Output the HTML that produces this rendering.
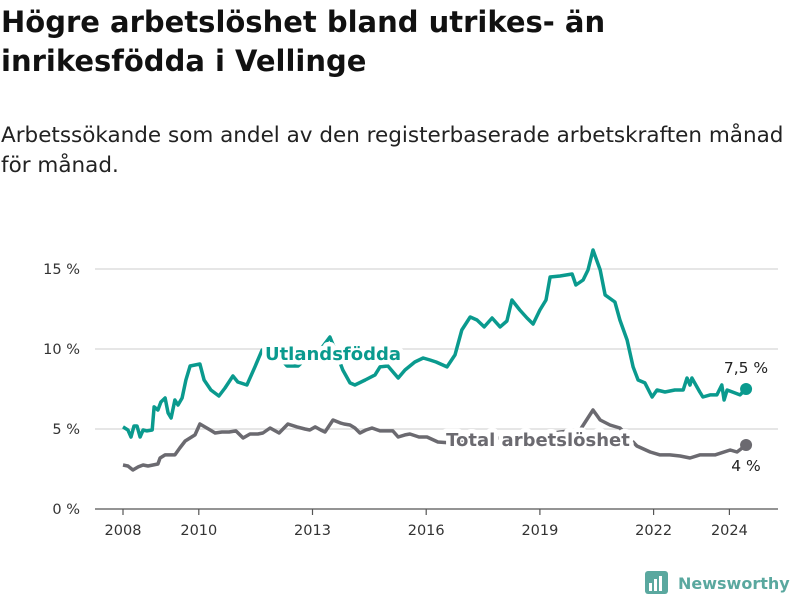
<!DOCTYPE html>
<html><head><meta charset="utf-8"><style>
body{margin:0;background:#fff;font-family:"DejaVu Sans","Liberation Sans",sans-serif;}
#wrap{position:relative;width:800px;height:600px;overflow:hidden;}
h1{position:absolute;left:1px;top:3px;margin:0;font-size:29px;line-height:39px;font-weight:bold;color:#111;}
p.sub{position:absolute;left:1px;top:121px;margin:0;font-size:21.5px;line-height:30px;color:#222;width:799px;}
</style></head><body>
<div id="wrap">
<h1>Högre arbetslöshet bland utrikes- än<br>inrikesfödda i Vellinge</h1>
<p class="sub">Arbetssökande som andel av den registerbaserade arbetskraften månad<br>för månad.</p>
<svg id="chart" width="800" height="600" style="position:absolute;left:0;top:0"></svg>
</div>
<script>
const utlYears=[2008.00,2008.13,2008.21,2008.29,2008.37,2008.45,2008.53,2008.63,2008.77,2008.82,2008.92,2009.00,2009.11,2009.19,2009.27,2009.37,2009.45,2009.56,2009.66,2009.77,2010.03,2010.14,2010.32,2010.53,2010.69,2010.90,2011.03,2011.27,2011.48,2011.67,2011.88,2012.14,2012.33,2012.62,2012.93,2013.20,2013.46,2013.65,2013.80,2013.99,2014.12,2014.39,2014.65,2014.78,2014.99,2015.26,2015.44,2015.70,2015.92,2016.10,2016.26,2016.55,2016.76,2016.94,2017.16,2017.34,2017.53,2017.74,2017.95,2018.13,2018.26,2018.47,2018.66,2018.82,2019.00,2019.16,2019.27,2019.53,2019.85,2019.95,2020.14,2020.27,2020.40,2020.59,2020.72,2020.98,2021.11,2021.30,2021.46,2021.59,2021.77,2021.96,2022.09,2022.30,2022.56,2022.78,2022.88,2022.96,2023.01,2023.22,2023.30,2023.49,2023.67,2023.80,2023.86,2023.94,2024.15,2024.28,2024.44];
const utlValues=[5.13,4.94,4.5,5.19,5.19,4.5,4.94,4.88,4.94,6.38,6.19,6.69,6.94,6.0,5.69,6.81,6.5,6.94,8.06,8.94,9.06,8.06,7.44,7.06,7.56,8.31,7.94,7.75,8.88,9.94,9.81,9.44,8.94,8.94,9.63,9.94,10.75,9.63,8.69,7.88,7.75,8.06,8.38,8.88,8.94,8.19,8.69,9.19,9.44,9.31,9.19,8.88,9.63,11.19,12.0,11.81,11.38,11.94,11.38,11.75,13.06,12.44,11.94,11.56,12.44,13.06,14.5,14.56,14.69,14.0,14.31,14.94,16.19,14.94,13.38,12.94,11.81,10.56,8.88,8.06,7.88,7.0,7.44,7.31,7.44,7.44,8.19,7.75,8.19,7.31,7.0,7.13,7.13,7.75,6.81,7.44,7.25,7.13,7.5];
const totYears=[2008.00,2008.13,2008.26,2008.40,2008.53,2008.66,2008.92,2008.98,2009.11,2009.37,2009.50,2009.64,2009.90,2010.03,2010.30,2010.43,2010.61,2010.80,2010.98,2011.17,2011.35,2011.56,2011.69,2011.88,2012.12,2012.35,2012.59,2012.80,2012.93,2013.07,2013.22,2013.33,2013.54,2013.73,2013.83,2013.99,2014.12,2014.25,2014.41,2014.57,2014.78,2015.12,2015.26,2015.44,2015.57,2015.81,2016.02,2016.31,2016.63,2017.16,2017.95,2018.74,2019.53,2020.06,2020.40,2020.59,2020.85,2021.11,2021.56,2021.91,2022.17,2022.43,2022.70,2022.96,2023.22,2023.62,2024.02,2024.20,2024.44];
const totValues=[2.75,2.69,2.44,2.63,2.75,2.69,2.81,3.19,3.38,3.38,3.81,4.25,4.63,5.31,4.94,4.75,4.81,4.81,4.88,4.44,4.69,4.69,4.75,5.06,4.75,5.31,5.13,5.0,4.94,5.13,4.94,4.81,5.56,5.38,5.31,5.25,5.06,4.75,4.94,5.06,4.88,4.88,4.5,4.63,4.69,4.5,4.5,4.19,4.13,4.31,4.44,4.5,4.81,4.94,6.19,5.56,5.25,5.06,3.94,3.56,3.38,3.38,3.31,3.19,3.38,3.38,3.69,3.56,4.0];
const yTicks=[0,5,10,15];
const yTickLabels=["0 %","5 %","10 %","15 %"];
const xTicks=[2008,2010,2013,2016,2019,2022,2024];
const utlEndLabel="7,5 %";
const totEndLabel="4 %";

const NS="http://www.w3.org/2000/svg";
const FF='DejaVu Sans, Liberation Sans, sans-serif';
const svg=document.getElementById('chart');
const X=y=>123+(y-2008)*37.9;
const Y=v=>509-v*16;
function mk(tag,attrs,parent){const e=document.createElementNS(NS,tag);for(const k in attrs)e.setAttribute(k,attrs[k]);(parent||svg).appendChild(e);return e;}

yTicks.forEach((t,i)=>{
  const g=mk('line',{x1:95,x2:778,y1:Y(t),y2:Y(t),stroke:t===0?'#555':'#ddd','stroke-width':t===0?1.2:1.5});
  
  
  const tx=mk('text',{x:80,y:Y(t)+5,'text-anchor':'end','font-size':14.5,fill:'#333','font-family':FF});
  tx.textContent=yTickLabels[i];
  
  
});
xTicks.forEach(t=>{
  const l=mk('line',{x1:X(t),x2:X(t),y1:509,y2:515,stroke:'#555','stroke-width':1.2});
  
  
  const tx=mk('text',{x:X(t),y:535,'text-anchor':'middle','font-size':14.5,fill:'#333','font-family':FF});
  tx.textContent=t;
  
  
});
function path(xs,vs){return xs.map((x,i)=>(i?'L':'M')+X(x).toFixed(1)+','+Y(vs[i]).toFixed(1)).join('');}
const tp=mk('path',{d:path(totYears,totValues),fill:'none',stroke:'#6b6a70','stroke-width':3.5,'stroke-linejoin':'round'});


const up=mk('path',{d:path(utlYears,utlValues),fill:'none',stroke:'#0a9a8e','stroke-width':3.5,'stroke-linejoin':'round'});


const ud=mk('circle',{cx:X(utlYears[utlYears.length-1]),cy:Y(utlValues[utlValues.length-1]),r:6,fill:'#0a9a8e'});


const td=mk('circle',{cx:X(totYears[totYears.length-1]),cy:Y(totValues[totValues.length-1]),r:6,fill:'#6b6a70'});



function lbl(txt,x,y,fill,bold,size,anchor,name){
  const t=mk('text',{x:x,y:y,fill:fill,'font-size':size,'font-weight':bold?'bold':'normal','text-anchor':anchor,'font-family':FF,'paint-order':'stroke',stroke:'#fff','stroke-width':bold?9:3,'stroke-linejoin':'round'});
  t.textContent=txt;
  
  
}
lbl('Utlandsfödda',333,360,'#0a9a8e',true,18,'middle','utlandsfodda-label');
lbl('Total arbetslöshet',538,446,'#6b6a70',true,18,'middle','total-label');
lbl(utlEndLabel,746,373,'#222',false,15.5,'middle','utlandsfodda-end-value');
lbl(totEndLabel,746,471,'#222',false,15.5,'middle','total-end-value');

const logo=mk('g',{});


mk('rect',{x:645,y:571,width:23,height:23,rx:3,fill:'#5aa89f'},logo);
mk('rect',{x:649,y:583,width:3,height:8,fill:'#fff'},logo);
mk('rect',{x:654,y:579,width:3,height:12,fill:'#fff'},logo);
mk('rect',{x:659,y:576,width:3,height:15,fill:'#fff'},logo);
const lt=mk('text',{x:678,y:589,'font-size':16,'font-weight':'bold',fill:'#5aa89f','font-family':FF},logo);
lt.textContent='Newsworthy';
</script>
</body></html>
